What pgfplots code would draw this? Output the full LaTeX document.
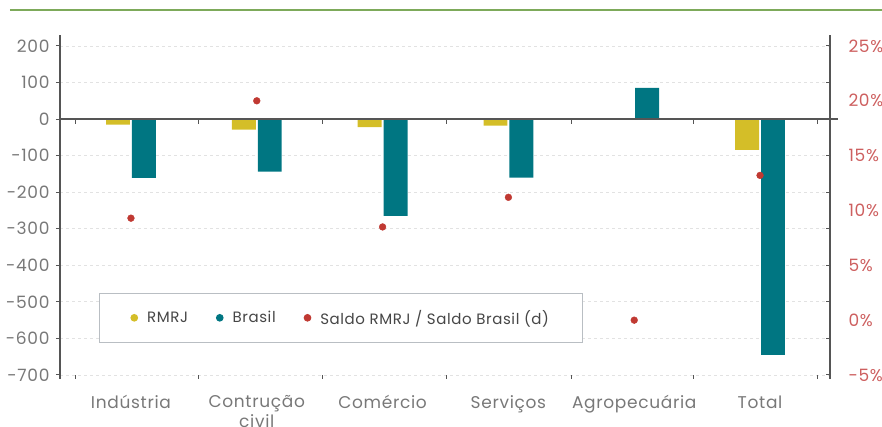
\documentclass[border=0pt]{standalone}
\usepackage{fontspec}
\setmainfont{Poppins}[LetterSpace=4]
\usepackage{pgfplots}
\pgfplotsset{compat=1.18}
\definecolor{rmrj}{RGB}{212,190,40}
\definecolor{brasil}{RGB}{0,118,130}
\definecolor{dotred}{RGB}{192,57,50}
\definecolor{rlab}{RGB}{205,95,95}
\definecolor{tlab}{RGB}{120,120,120}
\definecolor{axgray}{RGB}{85,85,85}
\definecolor{gridc}{RGB}{226,226,226}
\definecolor{leggray}{RGB}{185,190,195}
\definecolor{legtext}{RGB}{70,70,70}
\definecolor{topgreen}{RGB}{125,170,90}
\begin{document}
\begin{tikzpicture}
\begin{axis}[name=main,
  scale only axis, width=770pt, height=344pt,
  xmin=-0.564, xmax=5.556, ymin=-711, ymax=230,
  clip=false,
  axis y line*=left, axis x line*=bottom,
  x axis line style={draw=none},
  y axis line style={axgray, line width=1.2pt},
  ytick={-700,-600,...,200},
  ymajorgrids, grid style={gridc, dashed, line width=0.8pt},
  y tick style={axgray, line width=1pt}, 
  y tick label style={font=\fontsize{17}{20}\selectfont, text=tlab, xshift=-3pt},
  ytick align=outside, major tick length=4pt,
  xtick={-0.437,0.54,1.526,2.51,3.50,4.475,5.46},
  xticklabels={},
  x tick style={axgray, line width=1pt},
  xtick align=inside,
  extra x ticks={0,1,2,3,4,5},
  extra x tick labels={Indústria,Contrução\\civil,Comércio,Serviços,Agropecuária,Total},
  extra x tick style={major tick length=0pt, xmajorgrids=false},
  x tick label style={font=\fontsize{17}{20}\selectfont, text=tlab, align=center, anchor=north, yshift=-13pt},
  yticklabel={\pgfmathprintnumber{\tick}},
  /pgf/number format/assume math mode=true,
]
\addplot[ybar, bar width=0.19, bar shift=-0.103, fill=rmrj, draw=none]
  coordinates {(0,-15) (1,-29) (2,-22) (3,-18) (4,0) (5,-84)};
\addplot[ybar, bar width=0.19, bar shift=0.103, fill=brasil, draw=none]
  coordinates {(0,-161) (1,-144) (2,-265) (3,-160) (4,85) (5,-645)};
\draw[axgray, line width=1.2pt] (axis cs:-0.564,0) -- (axis cs:5.62,0);
\pgfplotsinvokeforeach{-0.437,0.54,1.526,2.51,3.50,4.475,5.46}{
  \draw[axgray, line width=1pt] (axis cs:#1,0) -- ([yshift=-5pt]axis cs:#1,0);
}
\end{axis}
\begin{axis}[
  scale only axis, width=770pt, height=344pt,
  xmin=-0.564, xmax=5.556, ymin=-5.365, ymax=26.0,
  clip=false,
  axis y line*=right, axis x line=none,
  y axis line style={axgray, line width=1.2pt},
  ytick={-5,0,...,25},
  yticklabel={\pgfmathprintnumber{\tick}\%},
  /pgf/number format/assume math mode=true,
  y tick label style={font=\fontsize{17}{20}\selectfont, text=rlab, xshift=15pt},
  major tick length=0pt,
  extra y ticks={-5,-1.6667,1.6667,5,8.3333,11.6667,15,18.3333,21.6667,25},
  extra y tick labels={},
  extra y tick style={major tick length=4pt, ytick align=inside, y tick style={axgray, line width=1pt}},
  legend style={at={(0.0506,0.25)}, anchor=north west, draw=leggray, line width=1pt, fill=white,
    font=\fontsize{15}{18}\selectfont, text=legtext, inner xsep=31pt, inner ysep=14.5pt},
  legend columns=3,
  legend cell align=left,
  /tikz/every even column/.append style={column sep=26pt},
  /tikz/every odd column/.append style={column sep=7pt},
]
\addlegendimage{legend image code/.code={\fill[rmrj] (0.45em,0) circle (3.3pt);}}
\addlegendentry{RMRJ}
\addlegendimage{legend image code/.code={\fill[brasil] (0.45em,0) circle (3.3pt);}}
\addlegendentry{Brasil}
\addplot[only marks, mark=*, mark size=3.4pt, color=dotred,
  legend image code/.code={\fill[dotred] (0.45em,0) circle (3.3pt);}]
  coordinates {(0,9.3) (1,20.0) (2,8.5) (3,11.2) (4,0.0) (5,13.2)};
\addlegendentry{Saldo RMRJ / Saldo Brasil (d)}
\end{axis}
\draw[topgreen, line width=2pt] (main.south west) ++(-50pt,369pt) -- ++(872pt,0);
\pgfresetboundingbox
\path (main.south west) ++(-60pt,-48pt) rectangle ++(882pt,427pt);
\end{tikzpicture}
\end{document}
